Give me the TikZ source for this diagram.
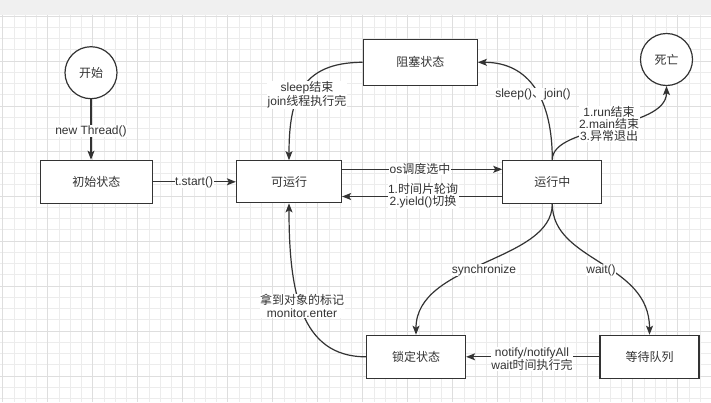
\documentclass[tikz,border=0pt]{standalone}
\usepackage{fontspec}
\setmainfont{Liberation Sans}
\newfontfamily\cjk{Noto Sans CJK SC}
\newcommand\zh[1]{{\cjk #1}}
\usetikzlibrary{arrows.meta}
\definecolor{ink}{RGB}{51,51,51}
\definecolor{gridminor}{RGB}{236,236,236}
\definecolor{gridmajor}{RGB}{222,222,222}
\definecolor{band}{RGB}{240,240,240}
\tikzset{
  statebox/.style={draw=ink, line width=1.2pt, fill=white, text=ink, minimum height=43pt, inner sep=0pt, font=\fontsize{12}{13}\selectfont},
  endpoint/.style={circle, draw=ink, line width=1.2pt, fill=white, text=ink, minimum size=52pt, inner sep=0pt, font=\fontsize{12}{13}\selectfont},
  edge/.style={draw=ink, line width=1.2pt, -{Stealth[length=9pt,width=7pt,inset=2pt]}},
  lbl/.style={fill=white, text=ink, inner sep=0.5pt, align=center, font=\fontsize{12}{12.3}\selectfont}
}
\begin{document}
\begin{tikzpicture}[x=1pt, y=-1pt]
\useasboundingbox (0,0) rectangle (711,402);
\fill[white] (0,0) rectangle (711,402);
% grid
\foreach \k in {0,...,63}{
  \pgfmathsetmacro\xx{2.7+11.25*\k}
  \draw[gridminor, line width=0.7pt] (\xx,15) -- (\xx,402);
}
\foreach \k in {0,...,34}{
  \pgfmathsetmacro\yy{16+11.25*\k}
  \draw[gridminor, line width=0.7pt] (0,\yy) -- (711,\yy);
}
\foreach \k in {0,...,15}{
  \pgfmathsetmacro\xx{2.7+45*\k}
  \draw[gridmajor, line width=0.8pt] (\xx,15) -- (\xx,402);
}
\foreach \k in {0,...,8}{
  \pgfmathsetmacro\yy{16+45*\k}
  \draw[gridmajor, line width=0.8pt] (0,\yy) -- (711,\yy);
}
\fill[band] (0,0) rectangle (711,15);

% nodes
\node[endpoint] (start) at (91,72.7) {\zh{开始}};
\node[endpoint] (dead) at (666.5,59.5) {\zh{死亡}};
\node[statebox, minimum width=112pt] (init) at (96.3,181.8) {\zh{初始状态}};
\node[statebox, minimum width=105pt, minimum height=42pt] (ready) at (289,181.8) {\zh{可运行}};
\node[statebox, minimum width=114pt, minimum height=46pt] (block) at (420.3,62.3) {\zh{阻塞状态}};
\node[statebox, minimum width=99pt] (running) at (552.3,181.8) {\zh{运行中}};
\node[statebox, minimum width=99pt] (lock) at (416,356.8) {\zh{锁定状态}};
\node[statebox, minimum width=99pt] (wait) at (649.5,356.8) {\zh{等待队列}};

% edges
\draw[edge] (start.south) -- (start.south |- init.north);
\draw[edge] (init.east) -- (ready.west);
\draw[edge] ([yshift=12.5pt]ready.east) -- ([yshift=12.5pt]running.west);
\draw[edge] ([yshift=-14.7pt]running.west) -- ([yshift=-14.7pt]ready.east);
\draw[edge] (running.north) .. controls (552.3,100) and (530,62.3) .. (block.east);
\draw[edge] (block.west) .. controls (300,62.3) and (289,100) .. (ready.north);
\draw[edge] (running.north) .. controls (552.3,125) and (666.5,130) .. (dead.south);
\draw[edge] (running.south) .. controls (552.3,262) and (416,262) .. (lock.north);
\draw[edge] (running.south) .. controls (552.3,262) and (649.5,262) .. (wait.north);
\draw[edge] (wait.west) -- (lock.east);
\draw[edge] (lock.west) .. controls (300,356.8) and (289,290) .. (ready.south);

% labels
\node[lbl] (l1) at (91,131) {new Thread()};
\node[lbl] (l2) at (194,182.3) {t.start()};
\node[lbl] (l3) at (420,169.3) {os\zh{调度选中}};
\node[lbl] (l4) at (423,196) {1.\zh{时间片轮询}\\2.yield()\zh{切换}};
\node[lbl] (l5) at (533,94) {sleep()\zh{、}join()};
\node[lbl] (l6) at (307,95) {sleep\zh{结束}\\join\zh{线程执行完}};
\node[lbl] (l7) at (609,124) {1.run\zh{结束}\\2.main\zh{结束}\\3.\zh{异常退出}};
\node[lbl] (l8) at (484,270) {synchronize};
\node[lbl] (l9) at (601,270) {wait()};
\node[lbl] (l10) at (532,359) {notify/notifyAll\\wait\zh{时间执行完}};
\node[lbl] (l11) at (302,306) {\zh{拿到对象的标记}\\monitor.enter};
\end{tikzpicture}
\end{document}
